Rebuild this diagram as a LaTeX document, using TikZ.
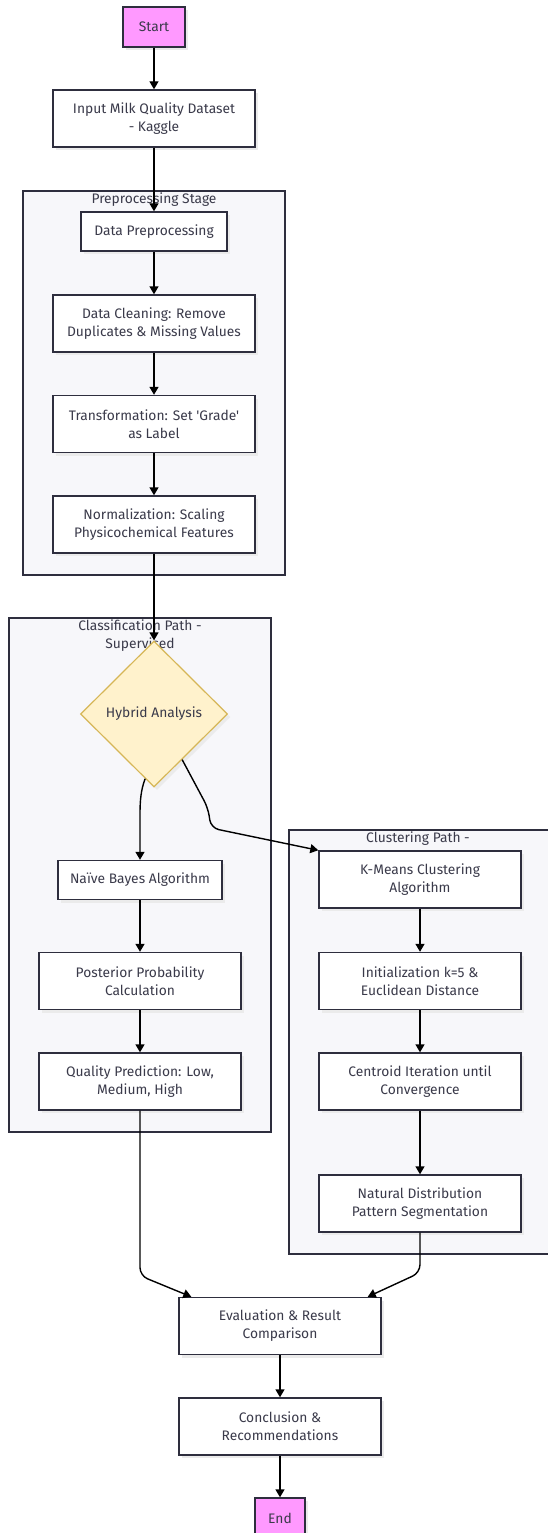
\documentclass[tikz,border=0pt]{standalone}
\usepackage{fontspec}
\setmainfont{Fira Sans}[Ligatures=TeXOff]
\usetikzlibrary{arrows.meta,shapes.geometric,shadows,calc}
\definecolor{txt}{HTML}{3A3A4A}
\definecolor{bd}{HTML}{2E2E3E}
\definecolor{clfill}{HTML}{F7F7FA}
\definecolor{pinkfill}{HTML}{FF99FF}
\definecolor{dfill}{HTML}{FFF2CC}
\definecolor{dstroke}{HTML}{D6B656}
\begin{document}
\begin{tikzpicture}[x=1pt,y=-1pt,
  every node/.style={font=\fontsize{13.8}{18}\selectfont, text=txt},
  shad/.style={drop shadow={shadow xshift=3pt, shadow yshift=-3pt, fill=black!8, opacity=1}},
  proc/.style={draw=bd, fill=white, line width=1.4pt, minimum width=202pt, minimum height=57pt, align=center, inner sep=0pt, shad},
  small/.style={proc, minimum height=39pt},
  term/.style={draw=bd, fill=pinkfill, line width=1.4pt, minimum height=40pt, inner sep=0pt, shad},
  decision/.style={diamond, draw=dstroke, fill=dfill, line width=1.2pt, minimum width=147pt, minimum height=146pt, inner sep=0pt, shad},
  cluster/.style={draw=bd, fill=clfill, line width=1.2pt},
  ctitle/.style={align=center, inner sep=0pt},
  arr/.style={draw=black, line width=1.4pt, -{Triangle[width=9pt,length=8pt]}},
  link/.style={arr, rounded corners=8pt}
]
\useasboundingbox (0,0) rectangle (547,1533);

% clusters
\draw[cluster] (23,191) rectangle (285,575);
\draw[cluster] (9,618) rectangle (271,1132);
\draw[cluster] (289,830) rectangle (549,1254);
\node[ctitle] (t1) at (154,200) {Preprocessing Stage};
\node[ctitle] (t2) at (140,636) {Classification Path -\\Supervised};
\node[ctitle] (t3) at (418,839) {Clustering Path -};

% nodes
\node[term, minimum width=62pt] (start) at (154,27) {Start};
\node[proc] (input) at (154,118.5) {Input Milk Quality Dataset\\- Kaggle};
\node[small, minimum width=146pt] (dprep) at (154,231.5) {Data Preprocessing};
\node[proc] (clean) at (154,323.5) {Data Cleaning: Remove\\Duplicates \& Missing Values};
\node[proc] (trans) at (154,424) {Transformation: Set 'Grade'\\as Label};
\node[proc] (norm) at (154,524.5) {Normalization: Scaling\\Physicochemical Features};
\node[decision] (hyb) at (154,714) {Hybrid Analysis};
\node[small, minimum width=164pt] (nb) at (140,880) {Naïve Bayes Algorithm};
\node[proc] (post) at (140,981) {Posterior Probability\\Calculation};
\node[proc] (qual) at (140,1081.5) {Quality Prediction: Low,\\Medium, High};
\node[proc] (km) at (420,879.5) {K-Means Clustering\\Algorithm};
\node[proc] (init) at (420,981) {Initialization k=5 \&\\Euclidean Distance};
\node[proc] (cent) at (420,1081.5) {Centroid Iteration until\\Convergence};
\node[proc] (nat) at (420,1203.5) {Natural Distribution\\Pattern Segmentation};
\node[proc] (eval) at (280,1326) {Evaluation \& Result\\Comparison};
\node[proc] (conc) at (280,1426.5) {Conclusion \&\\Recommendations};
\node[term, minimum width=50pt] (end) at (280,1518) {End};

% edges
\draw[arr] (start) -- (input);
\draw[arr] (input) -- (dprep);
\draw[arr] (dprep) -- (clean);
\draw[arr] (clean) -- (trans);
\draw[arr] (trans) -- (norm);
\draw[arr] (norm) -- (hyb);
\draw[arr] ($(hyb.south)!0.12!(hyb.west)$) .. controls ($(nb.north)+(1,-70)$) and ($(nb.north)+(0,-60)$) .. ($(nb.north)+(0,-45)$) -- (nb.north);
\coordinate (k1) at ($(hyb.south)!0.38!(hyb.east)$);
\draw[link] (k1) -- (208,808) -- (211,828) -- (km.north west);
\draw[arr] (nb) -- (post);
\draw[arr] (post) -- (qual);
\draw[arr] (km) -- (init);
\draw[arr] (init) -- (cent);
\draw[arr] (cent) -- (nat);
\draw[link] (qual.south) -- ($(qual.south)+(0,165)$) -- ($(eval.north west)+(13,0)$);
\draw[link] (nat.south) -- ($(nat.south)+(0,40)$) -- ($(eval.north east)+(-14,0)$);
\draw[arr] (eval) -- (conc);
\draw[arr] (conc) -- (end);
\end{tikzpicture}
\end{document}
